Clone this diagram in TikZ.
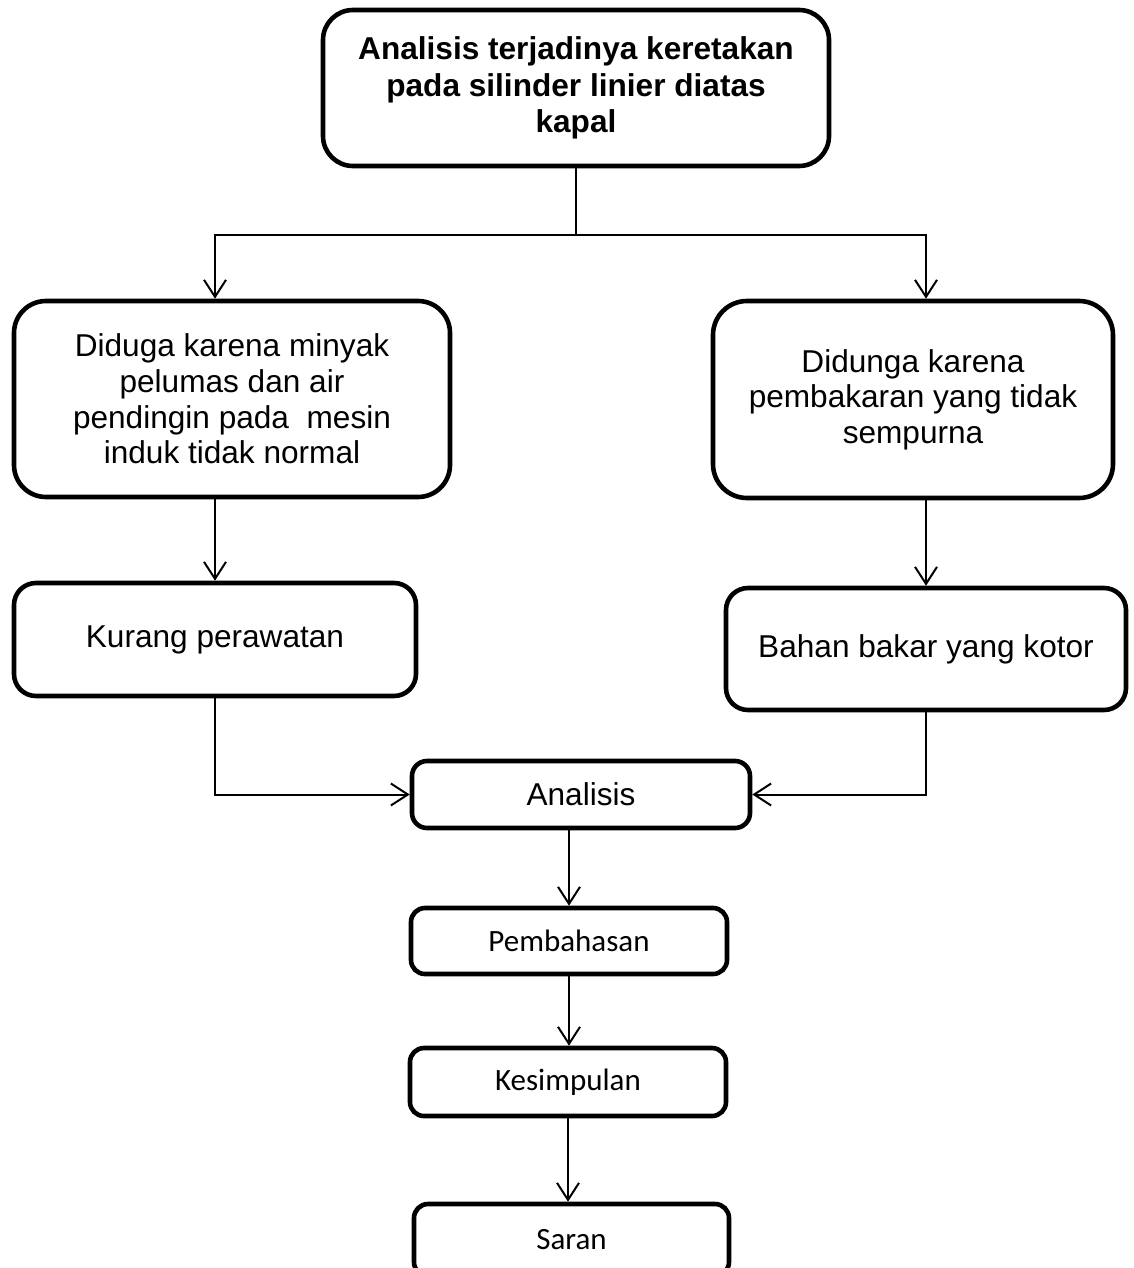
\documentclass[tikz,border=0pt]{standalone}
\usepackage{fontspec}
\setmainfont{Liberation Sans}
\newfontfamily\carlito{Carlito}
\usetikzlibrary{arrows.meta}
\begin{document}
\begin{tikzpicture}[x=0.5pt, y=-0.5pt,
   kotak/.style={draw, line width=2.3pt, rounded corners=#1, align=center, inner sep=0pt},
   kotak/.default=8pt,
   tulisan/.style={font=\fontsize{15.8}{17.8}\selectfont},
   tulisankecil/.style={font=\carlito\fontsize{15.5}{18}\selectfont},
   panah/.style={line width=1pt, -{Straight Barb[length=8.5pt, width=11pt]}}]
   \useasboundingbox (0,0) rectangle (1134,1268);
   \node[kotak=15pt, minimum width=253pt, minimum height=78pt, font=\bfseries\fontsize{15.8}{18.3}\selectfont] (judul) at (576,88) {Analisis terjadinya keretakan\\pada silinder linier diatas\\kapal};
   \node[kotak=16pt, tulisan, minimum width=218pt, minimum height=98pt] (sebab1) at (232,399) {Diduga karena minyak\\pelumas dan air\\pendingin pada~ mesin\\induk tidak normal};
   \node[kotak=17pt, tulisan, minimum width=200pt, minimum height=98.5pt] (sebab2) at (913,399.5) {Didunga karena\\pembakaran yang tidak\\sempurna};
   \node[kotak=11pt, tulisan, minimum width=201pt, minimum height=56.5pt] (kurang) at (215,639.5) {Kurang perawatan};
   \node[kotak=11pt, tulisan, minimum width=200pt, minimum height=61pt] (bahan) at (926,649) {Bahan bakar yang kotor};
   \node[kotak=7.5pt, tulisan, minimum width=169pt, minimum height=33.5pt] (analisis) at (581,794.5) {Analisis};
   \node[kotak=7pt, tulisankecil, minimum width=158pt, minimum height=33pt] (bahas) at (569,941) {Pembahasan};
   \node[kotak=7pt, tulisankecil, minimum width=158pt, minimum height=34pt] (simpul) at (568,1082) {Kesimpulan};
   \node[kotak=7pt, tulisankecil, minimum width=157.5pt, minimum height=36pt] (saran) at (571.5,1240) {Saran};
   \coordinate (cabang) at (571,235);
   \draw[panah] (judul.south) -- (judul.south |- cabang) -| (sebab1.north -| kurang.north);
   \draw[panah] (judul.south |- cabang) -| (sebab2.north -| bahan.north);
   \draw[panah] (sebab1.south -| kurang.north) -- (kurang.north);
   \draw[panah] (sebab2.south -| bahan.north) -- (bahan.north);
   \draw[panah] (kurang.south) |- (analisis.west);
   \draw[panah] (bahan.south) |- (analisis.east);
   \draw[panah] (analisis.south -| bahas.north) -- (bahas.north);
   \draw[panah] (bahas.south) -- (bahas.south |- simpul.north);
   \draw[panah] (simpul.south) -- (simpul.south |- saran.north);
\end{tikzpicture}
\end{document}
